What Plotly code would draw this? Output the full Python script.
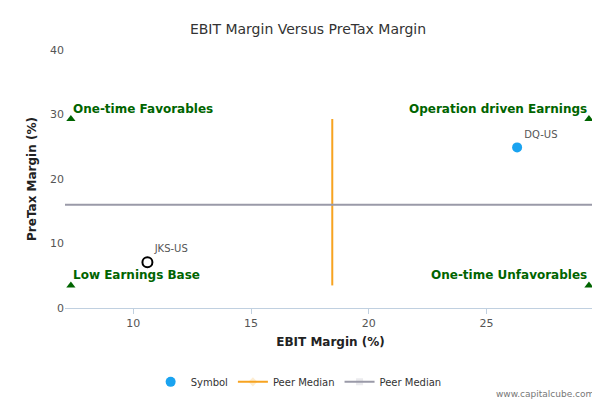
import plotly.graph_objects as go

SYMBOLS = ["DQ-US", "JKS-US"]
EBIT = [26.3, 10.6]
PRETAX = [24.9, 7.1]
X_MEDIAN = 18.45
Y_MEDIAN = 16.0
X_RANGE = [7.35, 29.35]
Y_RANGE = [3.5, 29.3]
QUADRANTS = ["One-time Favorables", "Operation driven Earnings", "Low Earnings Base", "One-time Unfavorables"]

GREEN = "#006400"
FONT = "DejaVu Sans, Verdana, sans-serif"

fig = go.Figure()
fig.add_scatter(x=[EBIT[0]], y=[PRETAX[0]], mode="markers+text", text=[SYMBOLS[0]],
                textposition="top right", textfont=dict(size=10, color="#555"),
                marker=dict(size=10, color="#1aa3f0"), name="Symbol")
fig.add_scatter(x=[EBIT[1]], y=[PRETAX[1]], mode="markers+text", text=[SYMBOLS[1]],
                textposition="top right", textfont=dict(size=10, color="#555"),
                marker=dict(size=10, color="white", line=dict(color="black", width=2)),
                showlegend=False)
fig.add_scatter(x=[X_MEDIAN, X_MEDIAN], y=Y_RANGE, mode="lines+markers",
                line=dict(color="#f7a320", width=2), name="Peer Median",
                marker=dict(size=7, color="#f7a320", symbol="diamond", opacity=0))
fig.add_scatter(x=[X_RANGE[0] - 1, X_RANGE[1] + 1], y=[Y_MEDIAN, Y_MEDIAN], mode="lines+markers",
                line=dict(color="#9a9aa8", width=2), name="Peer Median",
                marker=dict(size=7, color="#9a9aa8", symbol="square", opacity=0))

qx = [X_RANGE[0], X_RANGE[1], X_RANGE[0], X_RANGE[1]]
qy = [Y_RANGE[1], Y_RANGE[1], Y_RANGE[0], Y_RANGE[0]]
fig.add_scatter(x=qx, y=qy, mode="markers", marker=dict(symbol="triangle-up", size=8, color=GREEN),
                showlegend=False, hoverinfo="skip", cliponaxis=False)
for i, label in enumerate(QUADRANTS):
    left = i % 2 == 0
    fig.add_annotation(x=qx[i], y=qy[i], text="<b>" + label + "</b>", showarrow=False,
                       xanchor="left" if left else "right", yanchor="bottom",
                       xshift=0 if left else 0, yshift=1,
                       font=dict(size=12, color=GREEN))

fig.add_annotation(x=1.0, y=-0.36, xref="paper", yref="paper", text="www.capitalcube.com",
                   showarrow=False, xanchor="right", font=dict(size=9, color="#777"))

fig.update_layout(
    width=600, height=400,
    paper_bgcolor="white", plot_bgcolor="white",
    font=dict(family=FONT, size=11, color="#333"),
    title=dict(text="EBIT Margin Versus PreTax Margin", x=0.5, y=0.96, font=dict(size=14, color="#333")),
    margin=dict(l=57, r=12, t=42, b=93),
    showlegend=True,
    legend=dict(orientation="h", x=0.44, xanchor="center", y=-0.23, font=dict(size=10, color="#333")),
    xaxis=dict(range=[7.1, 29.65], tickvals=[10, 15, 20, 25], showgrid=False, zeroline=False,
               showline=True, linecolor="#c0d0e0", ticks="outside", tickcolor="#c0d0e0",
               title=dict(text="<b>EBIT Margin (%)</b>", font=dict(size=12, color="#222"), standoff=8),
               tickfont=dict(size=11, color="#555")),
    yaxis=dict(range=[0, 40], tickvals=[0, 10, 20, 30, 40], showgrid=False, zeroline=False,
               title=dict(text="<b>PreTax Margin (%)</b>", font=dict(size=12, color="#222"), standoff=10),
               tickfont=dict(size=11, color="#555")),
)

fig.write_html("out.html")
